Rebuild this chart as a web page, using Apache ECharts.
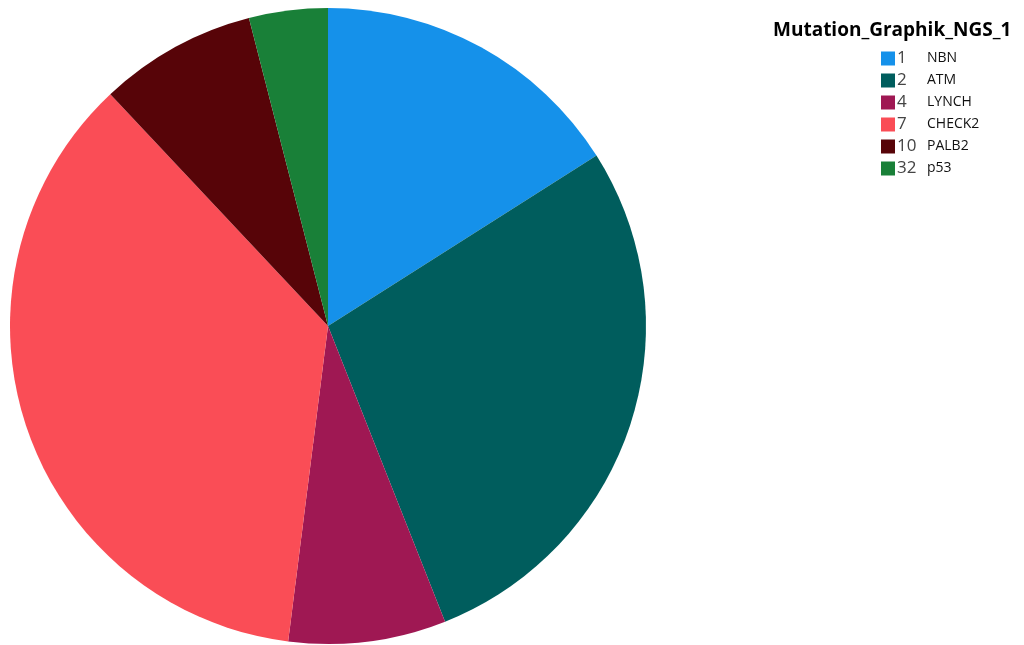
<!DOCTYPE html>
<html>
<head>
<meta charset="utf-8">
<script src="https://cdn.jsdelivr.net/npm/echarts@6/dist/echarts.min.js"></script>
<style>
  html, body { margin: 0; padding: 0; background: #fff; }
  #main { width: 1024px; height: 645px; }
</style>
</head>
<body>
<div id="main"></div>
<script>
// data
var names = ['NBN', 'ATM', 'LYNCH', 'CHECK2', 'PALB2', 'p53'];
var codes = ['1', '2', '4', '7', '10', '32'];
var values = [4, 7, 2, 9, 2, 1];
var colors = ['#1591ea', '#005d5d', '#9f1853', '#fa4d56', '#570408', '#198038'];

var pieData = names.map(function (n, i) {
  return { name: n, value: values[i], itemStyle: { color: colors[i] } };
});

var chart = echarts.init(document.getElementById('main'));

chart.setOption({
  animation: false,
  title: {
    text: 'Mutation_Graphik_NGS_1',
    left: 768,
    top: 16,
    textStyle: {
      fontFamily: 'Open Sans',
      fontWeight: 'bold',
      fontSize: 19,
      color: '#000'
    }
  },
  legend: {
    orient: 'vertical',
    left: 876,
    top: 45,
    itemWidth: 14,
    itemHeight: 14,
    itemGap: 5,
    icon: 'rect',
    data: names,
    formatter: function (name) {
      var i = names.indexOf(name);
      return '{c|' + codes[i] + '}{n|' + name + '}';
    },
    textStyle: {
      rich: {
        c: { fontFamily: 'Open Sans', fontSize: 17, color: '#444', width: 30, lineHeight: 14, padding: [0, 0, 0, -3] },
        n: { fontFamily: 'Open Sans', fontSize: 14, color: '#111', lineHeight: 14 }
      }
    }
  },
  series: [
    {
      type: 'pie',
      center: [328, 326],
      radius: [0, 318],
      startAngle: 90,
      clockwise: true,
      label: { show: false },
      labelLine: { show: false },
      emphasis: { disabled: true },
      data: pieData
    }
  ]
});

window.addEventListener('resize', function () {
  chart.resize();
});
</script>
</body>
</html>
